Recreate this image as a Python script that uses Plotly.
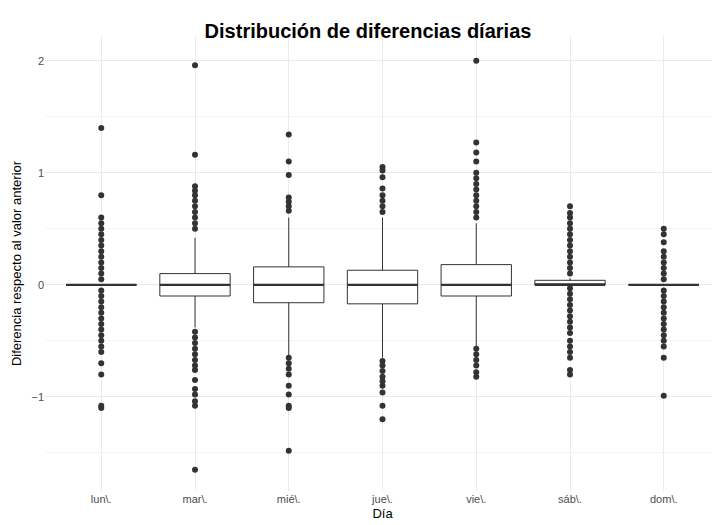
import plotly.graph_objects as go

dias = ['lun\\.', 'mar\\.', 'mié\\.', 'jue\\.', 'vie\\.', 'sáb\\.', 'dom\\.']
q1 = [0, -0.1, -0.16, -0.17, -0.1, 0, 0]
mediana = [0, 0, 0, 0, 0, 0, 0]
q3 = [0, 0.1, 0.16, 0.13, 0.18, 0.04, 0]
bigote_inf = [0, -0.38, -0.63, -0.65, -0.55, 0, 0]
bigote_sup = [0, 0.42, 0.6, 0.6, 0.55, 0.06, 0]

atipicos = [
    [1.4, 0.8, 0.6, 0.55, 0.5, 0.45, 0.4, 0.35, 0.3, 0.25, 0.2, 0.15, 0.1, 0.05,
     -0.05, -0.1, -0.15, -0.2, -0.25, -0.3, -0.35, -0.4, -0.45, -0.5, -0.55, -0.6, -0.7, -0.8, -1.08, -1.1],
    [1.96, 1.16, 0.88, 0.84, 0.8, 0.75, 0.7, 0.65, 0.6, 0.55, 0.5,
     -0.42, -0.47, -0.52, -0.57, -0.62, -0.67, -0.72, -0.76, -0.85, -0.93, -0.98, -1.04, -1.08, -1.65],
    [1.34, 1.1, 0.98, 0.78, 0.74, 0.7, 0.66,
     -0.65, -0.7, -0.75, -0.8, -0.9, -0.98, -1.08, -1.1, -1.48],
    [1.05, 1.02, 0.96, 0.86, 0.8, 0.75, 0.7, 0.65,
     -0.68, -0.72, -0.77, -0.82, -0.86, -0.9, -0.96, -1.08, -1.2],
    [2.0, 1.27, 1.18, 1.1, 1.0, 0.95, 0.9, 0.85, 0.8, 0.75, 0.7, 0.65, 0.6,
     -0.57, -0.62, -0.67, -0.72, -0.78, -0.82],
    [0.7, 0.64, 0.6, 0.55, 0.5, 0.45, 0.4, 0.35, 0.3, 0.25, 0.2, 0.15, 0.1,
     -0.03, -0.08, -0.13, -0.18, -0.23, -0.28, -0.33, -0.38, -0.43, -0.5, -0.55, -0.6, -0.65, -0.76, -0.8],
    [0.5, 0.45, 0.38, 0.3, 0.25, 0.2, 0.15, 0.1, 0.05,
     -0.05, -0.1, -0.15, -0.2, -0.25, -0.3, -0.35, -0.4, -0.45, -0.5, -0.55, -0.65, -0.99],
]

pos = list(range(len(dias)))
fig = go.Figure()
fig.add_trace(go.Box(x=pos, q1=q1, median=mediana, q3=q3, lowerfence=bigote_inf,
                     upperfence=bigote_sup, width=0.75, whiskerwidth=0, fillcolor='white',
                     line=dict(color='#333333', width=1), boxpoints=False, showlegend=False))
for i in pos:
    fig.add_trace(go.Scatter(x=[i] * len(atipicos[i]), y=atipicos[i], mode='markers',
                             marker=dict(color='#333333', size=6), showlegend=False))
    fig.add_trace(go.Scatter(x=[i - 0.375, i + 0.375], y=[mediana[i]] * 2, mode='lines',
                             line=dict(color='#333333', width=2.2), showlegend=False))

fig.update_layout(
    width=720, height=525, plot_bgcolor='white', paper_bgcolor='white',
    margin=dict(l=34, r=8, t=28, b=42),
    title=dict(text='<b>Distribución de diferencias díarias</b>', x=0.5, xanchor='center', y=0.97,
               font=dict(family='Liberation Sans, Arial', size=20, color='black')),
    font=dict(family='Liberation Sans, Arial', color='#4d4d4d', size=11),
)
fig.update_xaxes(tickvals=pos, ticktext=dias, range=[-0.6, 6.6], showgrid=True,
                 gridcolor='#ebebeb', zeroline=False, ticks='',
                 title=dict(text='Día', font=dict(size=13, color='black'), standoff=4))
fig.update_yaxes(range=[-1.84, 2.22], dtick=1, tick0=0, showgrid=True, gridcolor='#ebebeb',
                 minor=dict(dtick=0.5, tick0=0, showgrid=True, gridcolor='#f5f5f5'),
                 zeroline=False, ticks='',
                 title=dict(text='Diferencia respecto al valor anterior', font=dict(size=13, color='black'), standoff=6))
fig.write_html('out.html')
